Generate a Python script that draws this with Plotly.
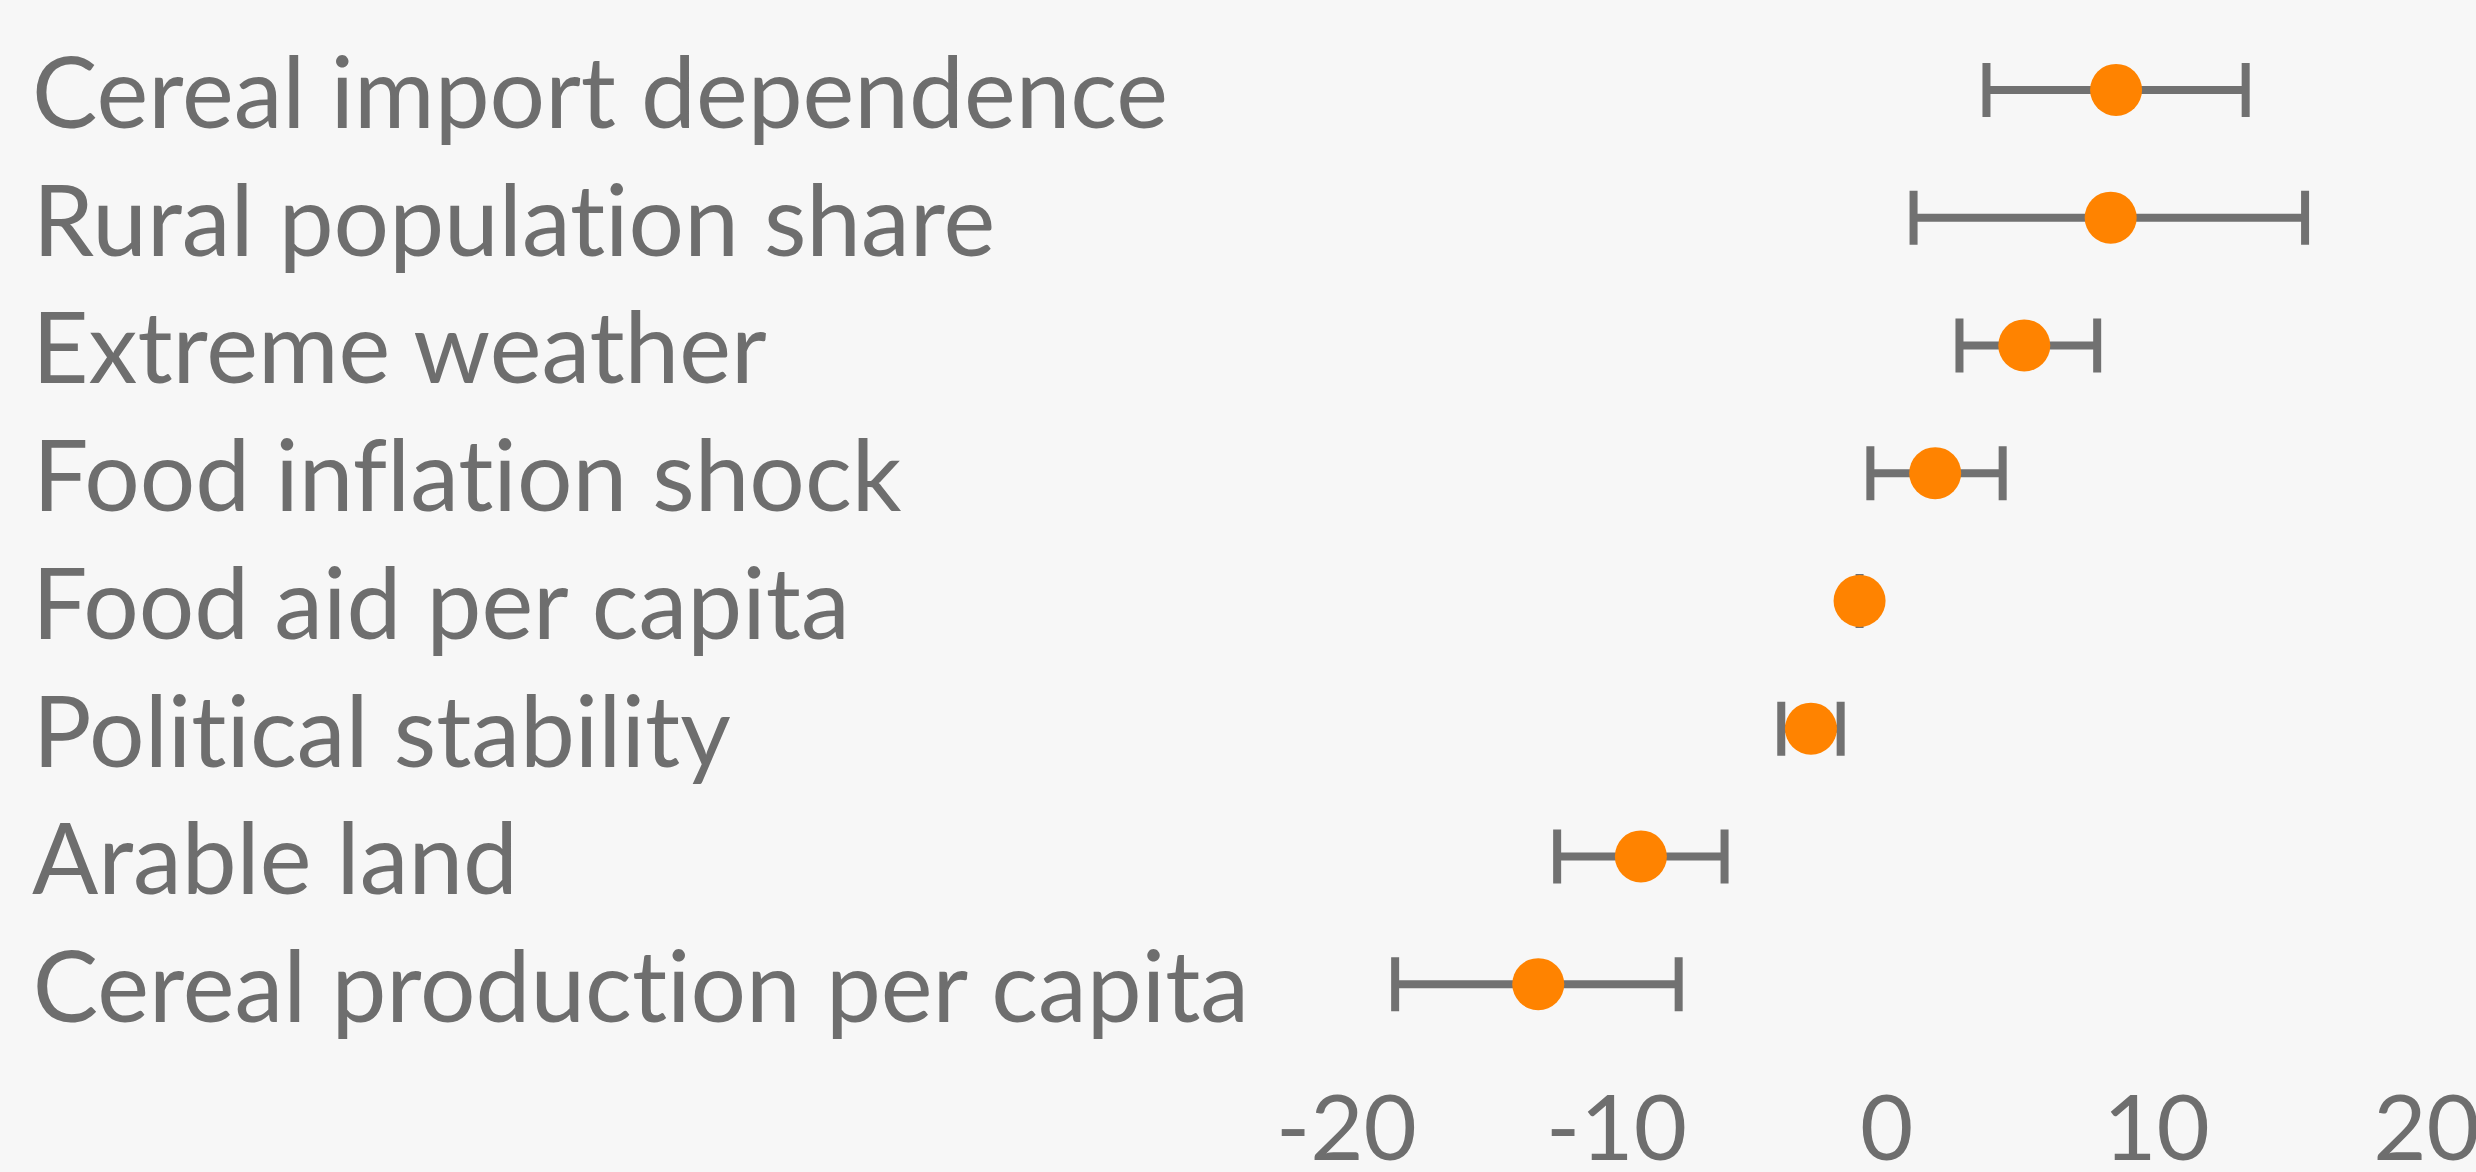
import plotly.graph_objects as go

# Data
factors = [
    "Cereal import dependence",
    "Rural population share",
    "Extreme weather",
    "Food inflation shock",
    "Food aid per capita",
    "Political stability",
    "Arable land",
    "Cereal production per capita",
]
estimate = [8.5, 8.3, 5.1, 1.8, -1.0, -2.8, -9.1, -12.9]
ci_low = [3.7, 1.0, 2.7, -0.6, -1.0, -3.9, -12.2, -18.2]
ci_high = [13.3, 15.5, 7.8, 4.3, -1.0, -1.7, -6.0, -7.7]
tick_vals = [-20, -10, 0, 10, 20]
tick_text = ["-20", "-10", "0", "10", "20"]

err_plus = [h - e for h, e in zip(ci_high, estimate)]
err_minus = [e - l for e, l in zip(estimate, ci_low)]

GRAY = "#717171"
ORANGE = "#ff8300"
FONT = "Lato"

fig = go.Figure()
fig.add_trace(go.Scatter(
    x=estimate,
    y=factors,
    mode="markers",
    marker=dict(size=52, color=ORANGE, line=dict(width=0)),
    error_x=dict(
        type="data",
        symmetric=False,
        array=err_plus,
        arrayminus=err_minus,
        color=GRAY,
        thickness=8,
        width=27,
    ),
    showlegend=False,
))

for f in factors:
    fig.add_annotation(
        x=0.0, xref="paper", xanchor="left", xshift=30,
        y=f, yref="y", yanchor="middle",
        text=f, showarrow=False,
        font=dict(family=FONT, size=98, color="#6e6e6e"),
    )

fig.update_layout(
    width=2476, height=1172,
    margin=dict(l=0, r=0, t=26, b=124, autoexpand=False),
    paper_bgcolor="#f7f7f7",
    plot_bgcolor="#f7f7f7",
    font=dict(family=FONT, size=92, color="#6e6e6e"),
)
fig.update_xaxes(
    range=[-69.87, 21.83],
    tickvals=tick_vals, ticktext=tick_text,
    showgrid=False, zeroline=False, showline=False,
    ticks="", ticklabelstandoff=19,
    ticklabeloverflow="allow",
    automargin=False,
    tickfont=dict(family=FONT, size=92, color="#6e6e6e"),
)
fig.update_yaxes(
    type="category",
    categoryorder="array", categoryarray=factors,
    range=[7.5, -0.5],
    automargin=False,
    showgrid=False, zeroline=False, showline=False,
    showticklabels=False, ticks="",
)

fig.write_html(
    "out.html",
    config={"displayModeBar": False},
    post_script=(
        "document.body.style.margin='0';document.body.style.padding='0';"
        "document.body.style.background='#f7f7f7';"
        "document.body.style.overflow='hidden';"
        "var s=document.createElement('style');"
        "s.textContent='text{font-variant-ligatures:none !important;"
        "font-feature-settings:\"liga\" 0, \"clig\" 0 !important;}';"
        "document.head.appendChild(s);"
    ),
)
